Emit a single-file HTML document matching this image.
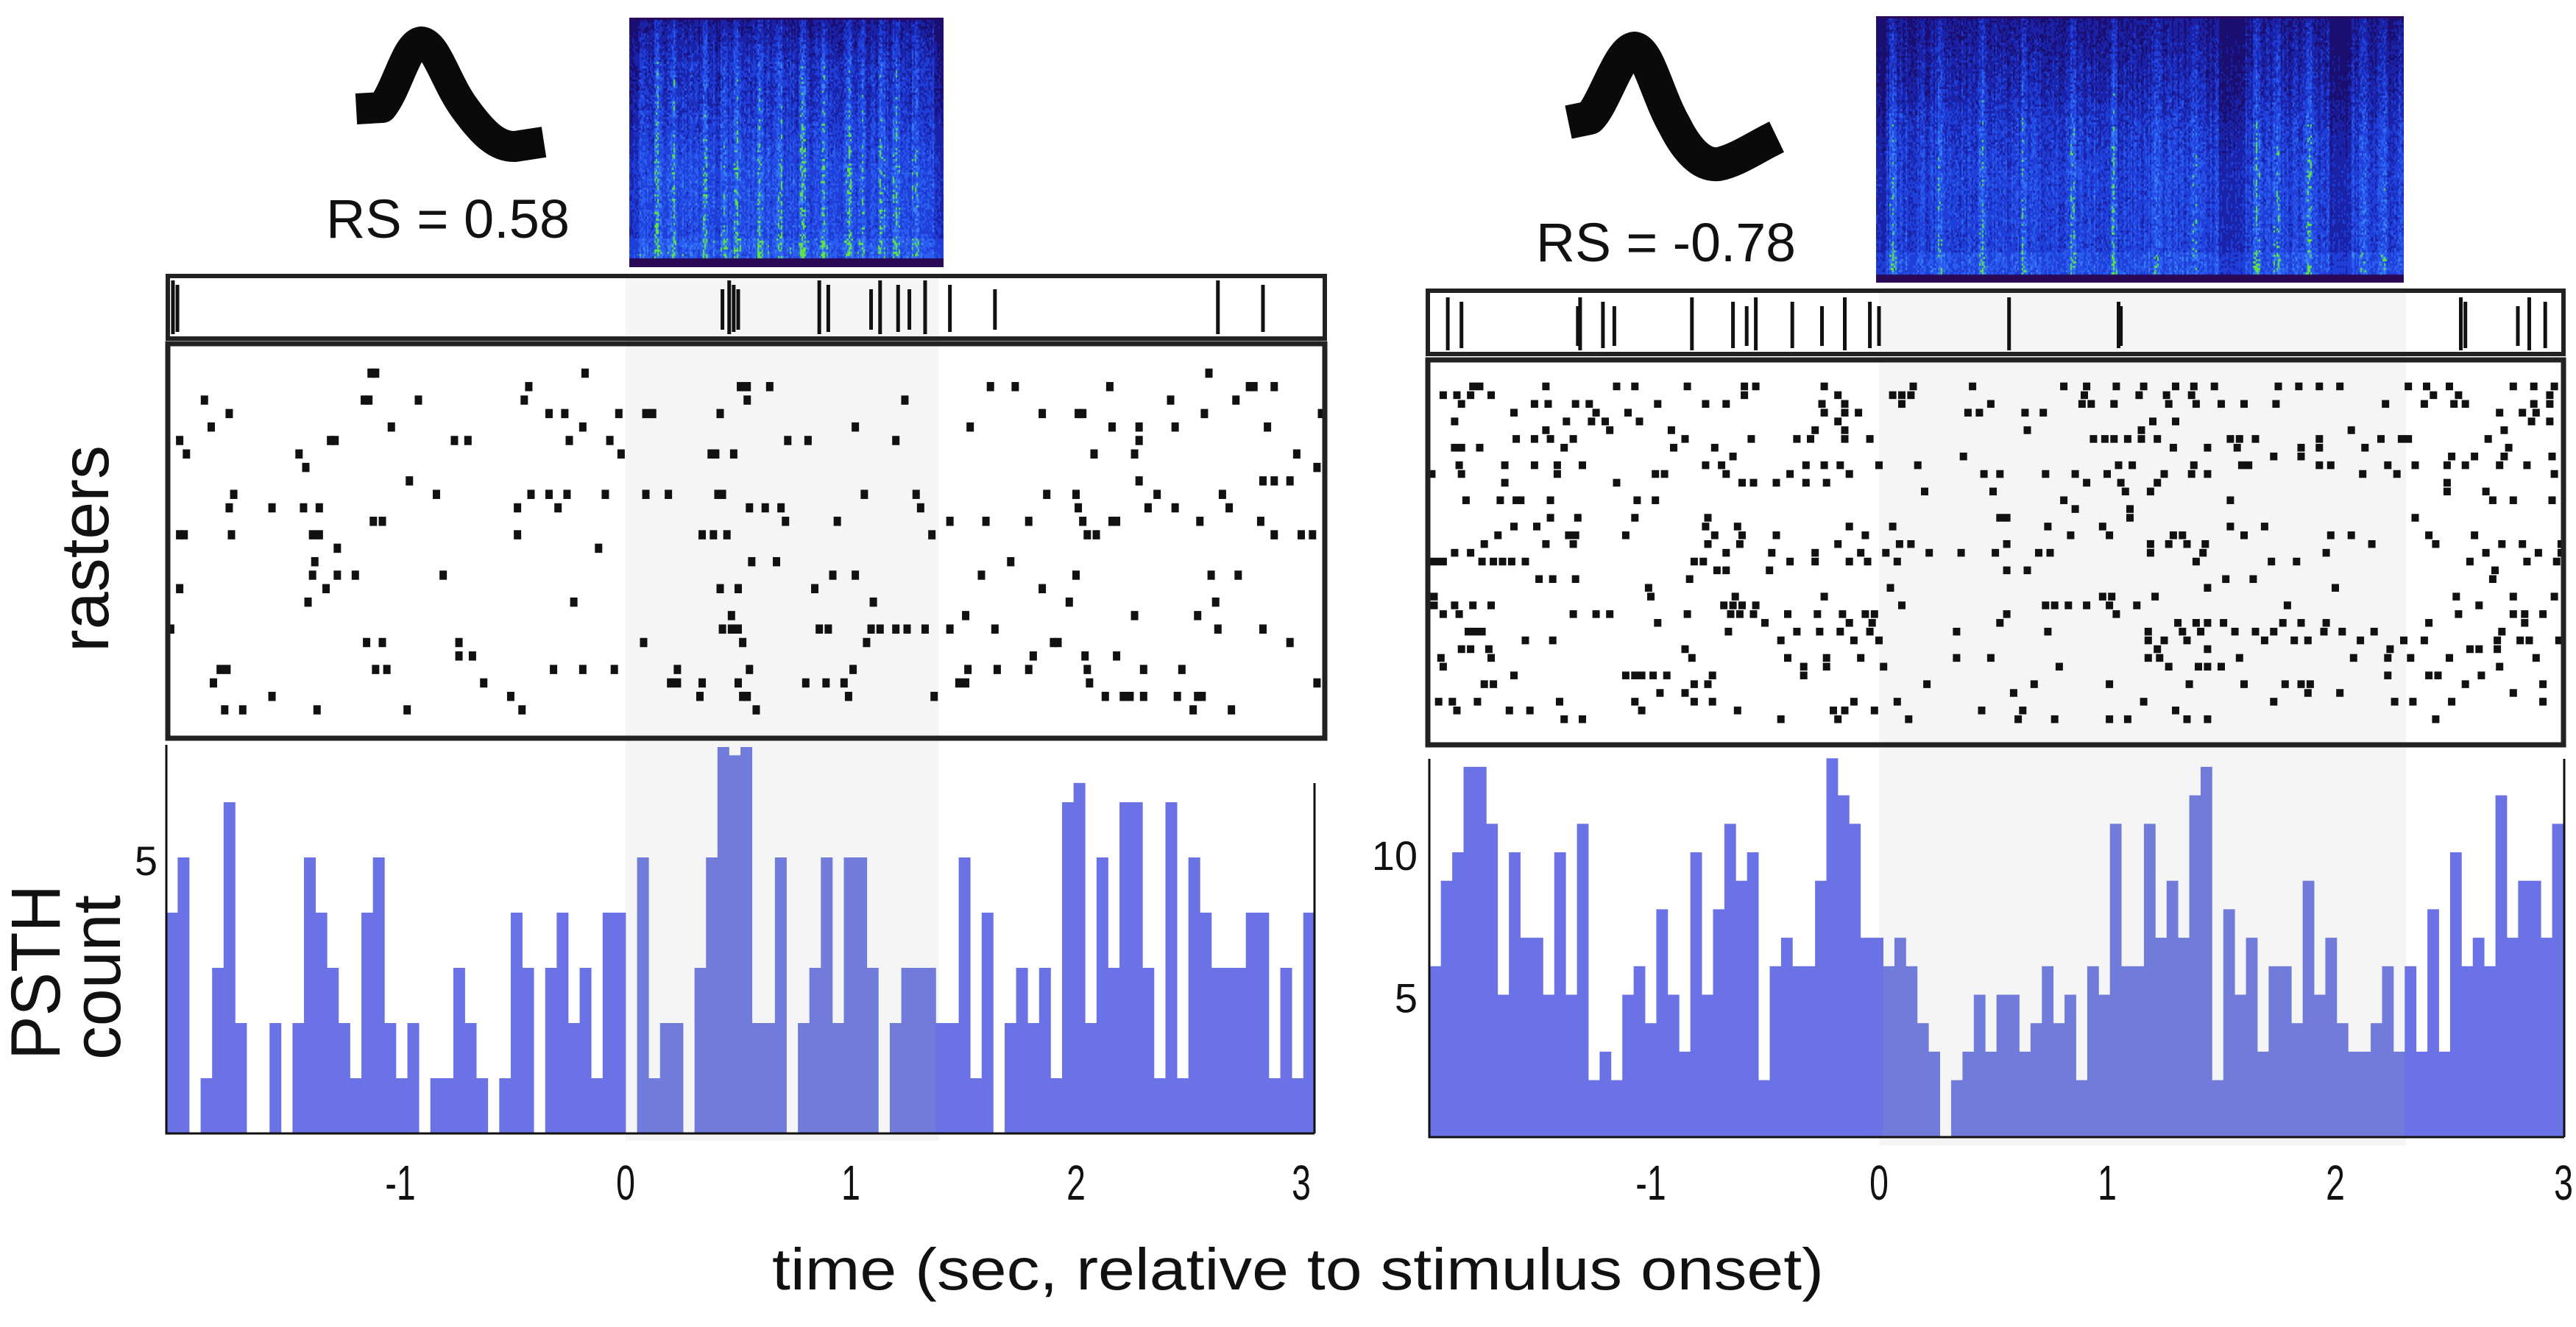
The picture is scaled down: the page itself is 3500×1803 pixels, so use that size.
<!DOCTYPE html>
<html><head><meta charset="utf-8"><title>Raster and PSTH figure</title>
<style>
html,body{margin:0;padding:0;background:#fff;}
#wrap{position:relative;width:3500px;height:1803px;overflow:hidden;background:#fff;}
svg{position:absolute;left:0;top:0;}
canvas{position:absolute;}
text{font-family:"Liberation Sans",sans-serif;fill:#111;}
</style></head>
<body>
<div id="wrap">
<svg id="fig" width="3500" height="1803" viewBox="0 0 3500 1803"></svg>
<canvas id="specL" width="427" height="339" style="left:855px;top:24px"></canvas>
<canvas id="specR" width="717" height="362" style="left:2549px;top:22px"></canvas>
</div>
<script>
// ---------- DATA ----------
const tickLabels = [-1, 0, 1, 2, 3];
const leftYTicks = [5];
const rightYTicks = [5, 10];
const leftBins = [4,5,0,1,3,6,2,0,0,2, 0,2,5,4,3,2,1,4,5,2, 1,2,0,1,1,3,2,1,0,1, 4,3,0,3,4,2,3,1,4,4,
  0,5,1,2,2,0,3,5,7,6.85, 7,2,2,5,0,2,3,5,2,5, 5,3,0,2,3,3,3,2,2,5, 1,4,0,2,3,2,3,1,6,6.35,
  2,5,3,6,6,3,1,6,1,5, 4,3,3,3,4,4,1,3,1,4];
const rightBins = [6,9,10,13,13,11,5,10,7,7, 5,10,5,11,2,3,2,5,6,4, 8,5,3,10,5,8,11,9,10,2, 6,7,6,6,9,13.3,12,11,7,7,
  6,7,6,4,3,0,2,3,5,3, 5,5,3,4,6,4,5,2,6,5, 11,6,6,11,7,9,7,12,13,2, 8,5,7,3,6,6,4,9,5,7,
  4,3,3,4,6,3,6,3,8,3, 10,6,7,6,12,7,9,9,7,11];
const leftStrip = [-2.01,-1.99,0.43,0.46,0.48,0.50,0.86,0.90,1.09,1.13,1.21,1.26,1.33,1.44,1.64,2.63,2.83];
const rightStrip = [-1.89,-1.83,-1.32,-1.31,-1.21,-1.16,-0.82,-0.64,-0.58,-0.54,-0.38,-0.25,-0.15,-0.04,0.0,0.57,1.05,1.06,2.55,2.57,2.80,2.85,2.92];
const leftRaster = [
 [-1.13,-1.11,-0.18,2.59],
 [-0.43,0.51,0.54,0.64,1.62,1.73,2.15,2.77,2.79,2.88],
 [-1.87,-1.16,-1.14,-0.92,-0.45,0.54,1.24,2.42,2.71],
 [-1.76,-0.34,-0.27,-0.03,0.09,0.12,0.42,1.85,2.01,2.03,2.57,3.09],
 [-1.84,-1.04,-0.19,1.02,1.53,2.16,2.28,2.44,2.85],
 [-1.98,-1.31,-1.29,-0.76,-0.70,-0.25,-0.07,0.72,0.81,1.20,2.28],
 [-1.95,-1.45,-0.02,0.38,0.40,0.48,2.08,2.26,2.98],
 [-1.42,3.07],
 [-0.96,2.28,2.83,2.88,2.95],
 [-1.74,-0.84,-0.42,-0.34,-0.26,-0.09,0.09,0.19,0.41,0.43,1.06,1.29,1.87,2.0,2.36,2.65],
 [-1.76,-1.57,-1.43,-1.36,-0.48,-0.30,0.55,0.62,0.69,1.31,2.01,2.32,2.44,2.68],
 [-1.12,-1.08,0.71,0.94,1.44,1.60,1.79,2.03,2.16,2.18,2.55,2.82],
 [-1.98,-1.96,-1.75,-1.39,-1.36,-0.48,0.34,0.39,0.45,1.36,2.05,2.09,2.88,3.0,3.05],
 [-1.28,-0.12],
 [-1.38,0.56,0.67,1.71],
 [-1.39,-1.28,-1.20,-0.81,0.92,1.02,1.58,2.0,2.6,2.72],
 [-1.98,-1.33,0.42,0.50,0.84,1.85],
 [-1.41,-0.23,1.10,1.97,2.62],
 [0.47,1.51,2.26,2.54],
 [-2.02,0.43,0.47,0.50,0.86,0.90,1.09,1.13,1.20,1.25,1.33,1.44,1.64,2.63,2.83],
 [-1.15,-1.08,-0.74,0.08,0.52,1.07,1.90,1.92,2.95],
 [-0.74,-0.68,1.81,2.04,2.18],
 [-1.80,-1.77,-1.11,-1.06,-0.32,-0.19,-0.05,0.23,0.55,1.01,1.52,1.65,1.79,2.05,2.30,2.47],
 [-1.83,-0.63,0.20,0.23,0.34,0.50,0.80,0.89,0.97,1.48,1.51,2.06,3.07],
 [-1.57,-0.51,0.33,0.52,0.54,0.99,1.37,2.13,2.21,2.24,2.30,2.45,2.54,2.56],
 [-1.78,-1.70,-1.37,-0.97,-0.46,0.58,2.52,2.69]
];
const rightRaster = [
 [-1.78,-1.75,-1.46,-1.15,-1.07,-0.84,-0.59,-0.54,-0.24,0.15,0.41,0.81,0.91,1.04,1.16,1.30,1.38,1.47,1.75,1.84,1.93,2.02,2.32,2.40,2.50,2.78,2.87,2.96],
 [-1.91,-1.85,-1.79,-1.70,-0.59,-0.18,0.06,0.10,0.14,0.90,1.14,1.26,1.37,2.43,2.54,2.94],
 [-1.83,-1.51,-1.45,-1.33,-1.27,-0.97,-0.76,-0.67,-0.25,-0.15,0.10,0.49,0.89,0.93,1.03,1.27,1.39,1.50,1.60,1.74,2.22,2.39,2.52,2.57,2.87,2.94],
 [-1.60,-1.24,-1.10,-0.24,-0.15,-0.09,0.39,0.44,0.64,0.72,2.72,2.82,2.88],
 [-1.86,-1.37,-1.26,-1.20,-1.05,-0.18,1.20,1.30,2.86,2.94],
 [-1.46,-1.18,-0.91,-0.28,-0.15,0.65,1.15,2.07,2.74],
 [-1.59,-1.51,-1.44,-1.34,-0.85,-0.56,-0.36,-0.30,-0.15,-0.04,0.94,0.99,1.03,1.09,1.15,1.22,1.54,1.58,1.65,1.93,2.20,2.29,2.32,2.67],
 [-1.86,-1.83,-1.75,-1.38,-0.90,-0.72,1.29,1.44,1.57,1.85,1.93,2.13,2.76],
 [-0.64,0.37,1.73,1.85,2.51,2.61,2.74,2.95],
 [-1.84,-1.64,-1.51,-1.41,-1.30,-0.76,-0.69,-0.32,-0.24,-0.17,0.00,0.17,1.05,1.11,1.38,1.59,1.62,1.93,1.98,2.23,2.35,2.49,2.57,2.72,2.84],
 [-1.96,-1.83,-1.41,-0.98,-0.94,-0.67,-0.39,-0.13,0.46,0.53,0.73,0.86,1.0,1.25,1.37,1.44,2.12,2.27,2.96],
 [-1.64,-1.15,-0.60,-0.55,-0.45,-0.32,-0.23,0.91,1.06,1.22,2.49],
 [0.20,0.50,1.08,1.19,2.49,2.66],
 [-1.81,-1.66,-1.59,-1.57,-1.44,-1.06,-0.98,0.81,1.54,2.69,2.78,2.95],
 [0.86,1.10],
 [-1.44,-1.32,-1.07,-0.75,0.53,0.56,1.10,2.35],
 [-1.60,-1.50,-0.76,-0.62,-0.13,0.06,0.74,0.98,1.54,1.69],
 [-1.67,-1.36,-1.33,-1.11,-0.72,-0.60,-0.45,-0.06,0.84,1.01,1.29,1.33,1.60,1.98,2.07,2.41,2.61],
 [-1.73,-1.46,-1.34,-0.75,-0.61,-0.18,0.09,0.14,0.56,1.19,1.27,1.35,1.43,2.16,2.44,2.73,2.82,2.99],
 [-1.86,-1.79,-0.67,-0.47,-0.28,-0.08,0.03,0.22,0.36,0.51,0.70,0.75,1.19,1.42,1.96,2.66,2.89,2.99],
 [-1.97,-1.94,-1.91,-1.74,-1.69,-1.65,-1.61,-1.55,-0.81,-0.77,-0.39,-0.28,-0.13,-0.05,0.08,1.39,1.72,1.83,2.59,2.84,2.97],
 [-0.71,-0.67,-0.48,0.56,0.65,2.70],
 [-1.49,-1.43,-1.33,-0.83,1.52,1.64,2.69],
 [-1.01,0.05,1.44,2.0],
 [-1.95,-1.0,-0.63,-0.24,0.98,1.02,1.21,2.53,2.78,2.96],
 [-1.95,-1.86,-1.78,-1.70,-0.68,-0.64,-0.60,-0.54,0.10,0.73,0.77,0.83,0.91,1.01,1.13,1.79,2.63],
 [-1.91,-1.84,-1.34,-1.24,-1.18,-0.84,-0.65,-0.61,-0.55,-0.40,-0.27,-0.16,-0.06,-0.02,0.56,1.04,2.54,2.78,2.83,2.91],
 [-0.97,-0.50,-0.13,-0.03,0.53,1.31,1.39,1.44,1.51,1.77,1.85,1.96,2.41,2.83],
 [-1.80,-1.77,-1.74,-0.66,-0.36,-0.26,-0.17,-0.04,0.34,0.74,1.18,1.33,1.41,1.56,1.65,1.73,1.95,2.03,2.17,2.73],
 [-1.55,-1.43,-0.43,-0.11,0.0,1.18,1.25,1.35,1.69,1.82,1.88,2.11,2.30,2.39,2.71,2.81,2.85,2.98],
 [-1.83,-1.79,-1.71,-0.85,1.22,1.44,2.24,2.59,2.63,2.71],
 [-1.92,-1.70,-0.82,-0.40,-0.23,-0.08,0.34,0.49,1.18,1.23,1.58,2.08,2.23,2.33,2.50,2.88],
 [-1.91,-0.33,-0.23,0.02,0.79,1.27,1.40,1.44,1.50,2.72],
 [-1.60,-1.11,-1.07,-1.04,-0.99,-0.93,-0.73,-0.33,2.23,2.41,2.45,2.64],
 [-1.73,-1.69,-0.81,-0.75,0.21,0.68,1.01,1.36,1.60,1.78,1.85,1.89,2.57,2.91],
 [-0.96,-0.85,0.59,1.88,2.02,2.78],
 [-1.93,-1.87,-1.76,-1.40,-1.07,-0.81,-0.73,-0.11,0.08,1.16,1.73,2.26,2.34,2.51,2.91],
 [-1.85,-1.62,-1.53,-1.04,-0.62,-0.20,-0.15,-0.02,0.45,0.63,1.30],
 [-1.38,-1.30,-0.43,-0.18,0.13,0.61,0.77,1.01,1.09,1.35,1.44,2.44]
];

// ---------- LAYOUT ----------
const NS = 'http://www.w3.org/2000/svg';
const svg = document.getElementById('fig');
function mk(tag, attrs, parent) {
  const e = document.createElementNS(NS, tag);
  for (const k in attrs) e.setAttribute(k, attrs[k]);
  (parent || svg).appendChild(e);
  return e;
}
const panels = [
  { key:'left', x0:850, pxs:306, tMin:-2.04, binW:0.051, stim:[0,1.39],
    plotL:226, plotR:1786, base:1540, unit:75, axisTop:1012, rAxisTop:1064,
    strip:[228,375,1800,460], stripLine:[381,454], box:[228,467,1800,1003],
    rowY0:507, rowDy:18.3, dotW:10, dotH:12.5, grayY:[373,1550],
    bins:leftBins, raster:leftRaster, stripT:leftStrip, yTicks:leftYTicks, yLabX:214 },
  { key:'right', x0:2553, pxs:310, tMin:-1.97, binW:0.0497, stim:[0,2.31],
    plotL:1942, plotR:3484, base:1545, unit:38.7, axisTop:1031, rAxisTop:1031,
    strip:[1940,395,3483,481], stripLine:[404,476], box:[1940,489,3483,1012],
    rowY0:525, rowDy:11.9, dotW:10, dotH:10.5, grayY:[390,1556],
    bins:rightBins, raster:rightRaster, stripT:rightStrip, yTicks:rightYTicks, yLabX:1926 }
];

panels.forEach(p => {
  const X = t => p.x0 + p.pxs * t;
  const Y = v => p.base - v * p.unit;
  const g = mk('g', {});
  
  

  const sh = mk('rect', {x:X(p.stim[0]), y:p.grayY[0], width:X(p.stim[1])-X(p.stim[0]), height:p.grayY[1]-p.grayY[0], fill:'#f4f5f4'}, g);
  
  

  const bg = mk('g', {}, g);
  
  
  p.bins.forEach((v, i) => {
    const t0 = p.tMin + i * p.binW, t1 = t0 + p.binW;
    const mid = (t0 + t1) / 2;
    const inStim = mid >= p.stim[0] && mid <= p.stim[1];
    const r = mk('rect', {x:X(t0), y:Y(v), width:X(t1)-X(t0)+0.4, height:p.base - Y(v), fill: inStim ? '#717bd9' : '#6a72e6'}, bg);
    
    
  });

  const ax = mk('path', {d:`M${p.plotL} ${p.axisTop} V${p.base} H${p.plotR} M${p.plotR} ${p.rAxisTop} V${p.base}`, stroke:'#111', 'stroke-width':3, fill:'none'}, g);
  
  

  p.yTicks.forEach(v => {
    const tx = mk('text', {x:p.yLabX, y:Y(v)+24, 'font-size':56, 'text-anchor':'end'}, g);
    tx.textContent = v;
    
    
  });
  tickLabels.forEach(v => {
    const by = 1630;
    const tx = mk('text', {x:X(v), y:by, 'font-size':58, 'text-anchor':'middle', transform:`translate(${X(v)} ${by}) scale(0.8 1.15) translate(${-X(v)} ${-by})`}, g);
    tx.textContent = v;
    
    
  });

  const rg = mk('g', {}, g);
  
  
  p.raster.forEach((row, r) => {
    const y = p.rowY0 + p.rowDy * r;
    row.forEach(t => {
      const d = mk('rect', {x:X(t)-p.dotW/2, y:y-p.dotH/2, width:p.dotW, height:p.dotH, fill:'#111'}, rg);
      
      
    });
  });

  const sg = mk('g', {}, g);
  
  
  p.stripT.forEach((t, i) => {
    const off = (i % 3) * 6;
    const l = mk('line', {x1:X(t), x2:X(t), y1:p.stripLine[0]+off, y2:p.stripLine[1]-off/2, stroke:'#111', 'stroke-width':5}, sg);
    
    
  });

  const [sx0, sy0, sx1, sy1] = p.strip;
  const sb = mk('rect', {x:sx0, y:sy0, width:sx1-sx0, height:sy1-sy0, fill:'none', stroke:'#222', 'stroke-width':6}, g);
  
  
  const [bx0, by0, bx1, by1] = p.box;
  const bb = mk('rect', {x:bx0, y:by0, width:bx1-bx0, height:by1-by0, fill:'none', stroke:'#222', 'stroke-width':7}, g);
  
  
});

// waveforms (thick stroked traces)
const wl = mk('path', {d:'M484 148 L519 146 C540 120 552 60 572 57 C592 58 605 110 630 145 C655 180 675 200 700 199 L739 193', fill:'none', stroke:'#0a0a0a', 'stroke-width':42, 'stroke-linejoin':'round'});


const wr = mk('path', {d:'M2131 166 L2160 160 C2180 140 2200 68 2221 66 C2240 70 2252 130 2275 170 C2295 210 2315 225 2335 223 C2360 218 2385 200 2414 186', fill:'none', stroke:'#0a0a0a', 'stroke-width':46, 'stroke-linejoin':'round'});



function label(txt, attrs, name) {
  const t = mk('text', attrs);
  t.textContent = txt;
  
  
  return t;
}
label('RS = 0.58', {x:443, y:323, 'font-size':74, textLength:331, lengthAdjust:'spacingAndGlyphs'}, 'left-rs-value');
label('RS = -0.78', {x:2087, y:355, 'font-size':74, textLength:353, lengthAdjust:'spacingAndGlyphs'}, 'right-rs-value');
label('rasters', {x:0, y:0, 'font-size':92, textLength:281, lengthAdjust:'spacingAndGlyphs', transform:'translate(147 886) rotate(-90)'}, 'raster-axis-title');
label('PSTH', {x:0, y:0, 'font-size':95, textLength:238, lengthAdjust:'spacingAndGlyphs', transform:'translate(81 1440) rotate(-90)'}, 'psth-axis-title');
label('count', {x:0, y:0, 'font-size':92, textLength:224, lengthAdjust:'spacingAndGlyphs', transform:'translate(163 1440) rotate(-90)'}, 'count-axis-title');
label('time (sec, relative to stimulus onset)', {x:1049, y:1752, 'font-size':80, textLength:1429, lengthAdjust:'spacingAndGlyphs'}, 'x-axis-title');

// spectrogram texture (image content, not chart data)
function spectro(id, seed, cfg) {
  const c = document.getElementById(id), ctx = c.getContext('2d');
  const W = c.width, H = c.height;
  let s = seed;
  const rnd = () => { s = (s * 1103515245 + 12345) % 2147483648; return s / 2147483648; };
  ctx.fillStyle = '#2a0a58'; ctx.fillRect(0, 0, W, H);
  const top = 3, bot = H - cfg.botPad;
  const cols = [];
  for (let x = 0; x < W; x += 2) cols.push(0.3 + 0.25 * rnd());
  cfg.stripes.forEach(sx => { for (let k = -2; k <= 2; k++) { const i = Math.round(sx * W / 2) + k; if (cols[i] !== undefined) cols[i] += 0.3 - Math.abs(k) * 0.08; } });
  cfg.dark.forEach(([a, b]) => { for (let i = Math.round(a * W / 2); i < Math.round(b * W / 2); i++) if (cols[i] !== undefined) cols[i] *= 0.55; });
  for (let i = 0; i < cols.length; i++) {
    for (let y = top; y < bot; y += 3) {
      const fy = y / H;
      let v = cols[i] * (0.5 + 0.7 * rnd());
      const dk = Math.max(0, Math.min(1, (cfg.topDark - fy) / cfg.topDark));
      v *= 1 - 0.45 * dk;
      v += cfg.lowBoost * 0.18 * Math.max(0, Math.min(1, (fy - 0.3) / 0.3));
      if (fy > 0.88) v += 0.1;
      let col;
      if (v < 0.2) col = '#1a0f70';
      else if (v < 0.36) col = '#1a22a8';
      else if (v < 0.55) col = '#1f3fd8';
      else if (v < 0.75) col = '#2a5df0';
      else if (v < 0.87) col = '#3a85f5';
      else col = '#5fe83a';
      ctx.fillStyle = col;
      ctx.fillRect(i * 2, y, 2, 3);
    }
  }
}
spectro('specL', 12345, { botPad: 12, topDark: 0.2, lowBoost: 0.9,
  stripes:[0.09,0.14,0.24,0.30,0.34,0.41,0.48,0.55,0.62,0.70,0.74,0.80,0.85,0.91],
  dark:[[0,0.03],[0.97,1]] });
spectro('specR', 98765, { botPad: 12, topDark: 0.4, lowBoost: 0.6,
  stripes:[0.03,0.12,0.20,0.28,0.37,0.45,0.53,0.60,0.72,0.76,0.82,0.92,0.96],
  dark:[[0.0,0.02],[0.65,0.70],[0.86,0.90]] });
</script>
</body></html>
